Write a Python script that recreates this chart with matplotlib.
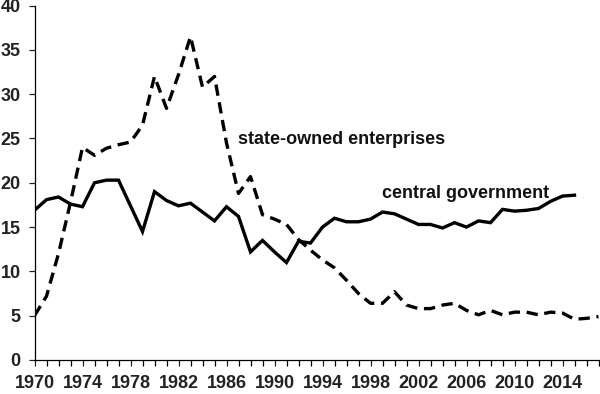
import numpy as np
import matplotlib
matplotlib.use('Agg')
import matplotlib.pyplot as plt

# data
years_cg = list(range(1970, 2016))
central_gov = [16.9, 18.1, 18.4, 17.6, 17.3, 20.0, 20.3, 20.3, 17.4, 14.5,
               19.0, 18.0, 17.4, 17.7, 16.7, 15.7, 17.3, 16.2, 12.2, 13.5,
               12.2, 11.0, 13.4, 13.2, 15.0, 16.0, 15.6, 15.6, 15.9, 16.7,
               16.5, 15.9, 15.3, 15.3, 14.9, 15.5, 15.0, 15.7, 15.5, 17.0,
               16.8, 16.9, 17.1, 17.9, 18.5, 18.6]

years_soe = list(range(1970, 2018))
soe = [5.0, 7.2, 12.0, 17.8, 24.0, 23.1, 23.9, 24.3, 24.6, 26.5,
       32.0, 28.4, 32.2, 36.5, 30.8, 32.0, 24.5, 18.8, 20.7, 16.4,
       15.9, 15.3, 13.6, 12.4, 11.3, 10.4, 9.0, 7.5, 6.4, 6.4,
       7.7, 6.2, 5.8, 5.8, 6.2, 6.4, 5.6, 5.1, 5.6, 5.1,
       5.4, 5.4, 5.1, 5.4, 5.3, 4.6, 4.7, 4.9]

xtick_years = list(range(1970, 2015, 4))
yticks = list(range(0, 45, 5))

plt.rcParams['font.family'] = ['Liberation Sans', 'DejaVu Sans']
plt.rcParams['font.weight'] = 'bold'

fig = plt.figure(figsize=(6, 3.94), dpi=100)
ax = fig.add_axes([0.0575, 0.0863, 0.94, 0.8995])

# lines
ax.plot(years_cg, central_gov, color='black', linewidth=2.4, solid_joinstyle='miter')
ax.plot(years_soe, soe, color='black', linewidth=2.4, dashes=(3.4, 2.0))

# labels on the lines
ax.text(1987.0, 24.9, 'state-owned enterprises', fontsize=13, fontweight='bold',
        va='center', ha='left', color='#111111')
ax.text(1999.0, 18.8, 'central government', fontsize=13, fontweight='bold',
        va='center', ha='left', color='#111111')

ax.set_xlim(1970, 2017)
ax.set_ylim(0, 40)

ax.spines['top'].set_visible(False)
ax.spines['right'].set_visible(False)
ax.spines['left'].set_linewidth(0.9)
ax.spines['bottom'].set_linewidth(0.9)

ax.set_xticks(years_soe, minor=True)
ax.set_xticks(xtick_years)
ax.set_xticklabels([str(y) for y in xtick_years], fontsize=13, fontweight='bold')
ax.set_yticks(yticks)
ax.set_yticklabels([str(v) for v in yticks], fontsize=13, fontweight='bold')

ax.tick_params(axis='x', which='both', direction='out', length=4, width=0.9, pad=7)
ax.tick_params(axis='y', direction='out', length=4, width=0.9, pad=6)
ax.tick_params(colors='#222222')

plt.savefig('out.png', dpi=100)
